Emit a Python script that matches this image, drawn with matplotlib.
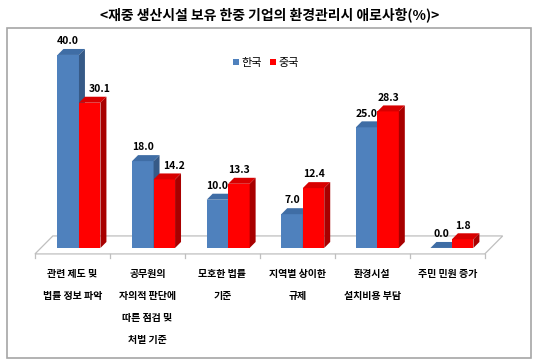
import matplotlib.pyplot as plt
from matplotlib.patches import Polygon, Rectangle, Patch

plt.rcParams['font.family'] = ['Noto Sans CJK KR', 'DejaVu Sans']

# ----- 데이터 -----------------------------------------------------------------
TITLE = "<재중 생산시설 보유 한중 기업의 환경관리시 애로사항(%)>"
CATEGORIES = [
    "관련 제도 및\n법률 정보 파악",
    "공무원의\n자의적 판단에\n따른 점검 및\n처벌 기준",
    "모호한 법률\n기준",
    "지역별 상이한\n규제",
    "환경시설\n설치비용 부담",
    "주민 민원 증가",
]
KOREA = [40.0, 18.0, 10.0, 7.0, 25.0, 0.0]
CHINA = [30.1, 14.2, 13.3, 12.4, 28.3, 1.8]
SERIES = ["한국", "중국"]
# ------------------------------------------------------------------------------

# 색상 (앞면, 윗면, 옆면)
BLUE = ("#4F81BD", "#3F6DA5", "#365A87")
RED = ("#FF0000", "#D80000", "#A80000")

W = 0.288     # 막대 폭 (x 단위)
DX = 0.08     # 3D 깊이 x
DY = 1.24     # 3D 깊이 y


def bar3d(ax, x0, v, colors):
    front, top, side = colors
    ax.add_patch(Rectangle((x0, 0), W, v, facecolor=front, edgecolor="none",
                           clip_on=False, zorder=3))
    ax.add_patch(Polygon([(x0, v), (x0 + W, v), (x0 + W + DX, v + DY), (x0 + DX, v + DY)],
                         closed=True, facecolor=top, edgecolor="none",
                         clip_on=False, zorder=3))
    ax.add_patch(Polygon([(x0 + W, 0), (x0 + W + DX, DY), (x0 + W + DX, v + DY), (x0 + W, v)],
                         closed=True, facecolor=side, edgecolor="none",
                         clip_on=False, zorder=3))


def main():
    fig = plt.figure(figsize=(5.4, 3.63), dpi=100)
    ax = fig.add_axes([0.0606, 0.2970, 0.8620, 0.5782])
    ax.set_xlim(-0.62, 5.62)
    ax.set_ylim(-1.5, 42)
    ax.axis("off")

    n = len(CATEGORIES)

    # 바닥면
    fl, fr, fy = -0.59, 5.44, -1.24
    bx, by = 0.24, 2.49
    ax.add_patch(Polygon([(fl, fy), (fr, fy), (fr + bx, by), (fl + bx, by)],
                         closed=True, fill=False, edgecolor="#BFBFBF", lw=0.9,
                         clip_on=False, zorder=1))
    step = (fr - fl) / n
    for k in range(n + 1):
        xt = fl + k * step
        ax.plot([xt, xt], [fy, fy - 0.9], color="#BFBFBF", lw=0.9, clip_on=False, zorder=1)

    for i in range(n):
        bar3d(ax, i - W, KOREA[i], BLUE)
        bar3d(ax, i, CHINA[i], RED)

        ax.annotate(f"{KOREA[i]:.1f}", (i - W / 2, KOREA[i] + DY), xytext=(0, 2),
                    textcoords="offset points", ha="center", va="bottom",
                    fontsize=7.5, fontweight="bold", zorder=5, annotation_clip=False)
        shift = 7 if KOREA[i] > CHINA[i] else 0
        ax.annotate(f"{CHINA[i]:.1f}", (i + W / 2, CHINA[i] + DY), xytext=(shift, 2),
                    textcoords="offset points", ha="center", va="bottom",
                    fontsize=7.5, fontweight="bold", zorder=5, annotation_clip=False)

        ax.annotate(CATEGORIES[i], (fl + (i + 0.5) * step, fy), xytext=(0, -11),
                    textcoords="offset points", ha="center", va="top",
                    fontsize=7.2, fontweight="bold", linespacing=2.5,
                    annotation_clip=False)

    handles = [Patch(facecolor=BLUE[0]), Patch(facecolor=RED[0])]
    fig.legend(handles, SERIES, loc="center", bbox_to_anchor=(0.4926, 0.8264),
               ncol=2, frameon=False, fontsize=8, handlelength=0.55, handleheight=0.55,
               handletextpad=0.25, columnspacing=0.7)

    fig.text(0.5, 1 - 15 / 363, TITLE, ha="center", va="center",
             fontsize=10, fontweight="bold")

    fig.add_artist(Rectangle((7 / 540, 1 - 358 / 363), 524 / 540, 330 / 363,
                             transform=fig.transFigure, fill=False,
                             edgecolor="#A6A6A6", lw=1.2))

    plt.savefig("out.png", dpi=100)


if __name__ == "__main__":
    main()
